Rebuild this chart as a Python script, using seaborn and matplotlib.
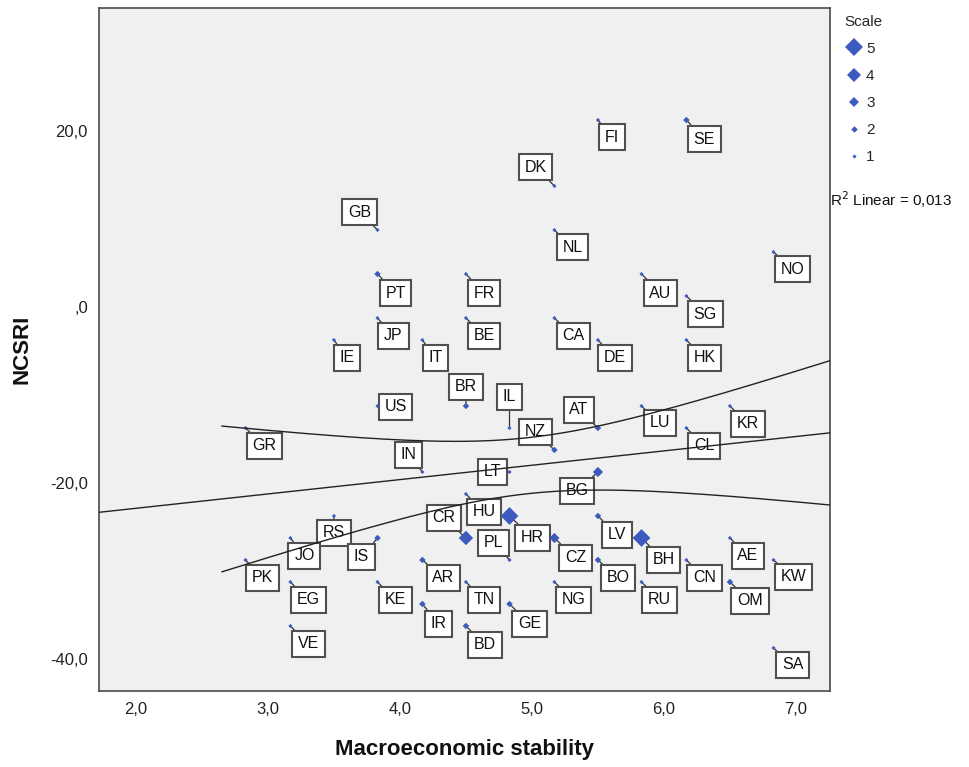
import numpy as np
import pandas as pd
import matplotlib
matplotlib.use("Agg")
import matplotlib.pyplot as plt
import seaborn as sns

# ---------------- data ----------------
countries = ["FI", "SE", "DK", "GB", "NL", "NO", "PT", "FR", "AU", "SG",
             "JP", "BE", "CA", "IE", "IT", "DE", "HK", "US", "BR", "LU",
             "KR", "GR", "IL", "AT", "CL", "NZ", "IN", "LT", "BG", "HU",
             "RS", "HR", "LV", "JO", "IS", "CR", "CZ", "BH", "AE", "PK",
             "AR", "PL", "BO", "CN", "KW", "EG", "KE", "TN", "NG", "RU",
             "OM", "IR", "GE", "VE", "BD", "SA"]
macro = [5.50, 6.17, 5.17, 3.83, 5.17, 6.83, 3.83, 4.50, 5.83, 6.17,
         3.83, 4.50, 5.17, 3.50, 4.17, 5.50, 6.17, 3.83, 4.50, 5.83,
         6.50, 2.83, 4.83, 5.50, 6.17, 5.17, 4.17, 4.83, 5.50, 4.50,
         3.50, 4.83, 5.50, 3.17, 3.83, 4.50, 5.17, 5.83, 6.50, 2.83,
         4.17, 4.83, 5.50, 6.17, 6.83, 3.17, 3.83, 4.50, 5.17, 5.83,
         6.50, 4.17, 4.83, 3.17, 4.50, 6.83]
ncsri = [21.25, 21.25, 13.75, 8.75, 8.75, 6.25, 3.75, 3.75, 3.75, 1.25,
         -1.25, -1.25, -1.25, -3.75, -3.75, -3.75, -3.75, -11.25, -11.25, -11.25,
         -11.25, -13.75, -13.75, -13.75, -13.75, -16.25, -18.75, -18.75, -18.75, -21.25,
         -23.75, -23.75, -23.75, -26.25, -26.25, -26.25, -26.25, -26.25, -26.25, -28.75,
         -28.75, -28.75, -28.75, -28.75, -28.75, -31.25, -31.25, -31.25, -31.25, -31.25,
         -31.25, -33.75, -33.75, -36.25, -36.25, -38.75]
scale = [1, 2, 1, 1, 1, 1, 2, 1, 1, 1,
         1, 1, 1, 1, 1, 1, 1, 1, 2, 1,
         1, 1, 1, 2, 1, 2, 1, 1, 3, 1,
         1, 5, 2, 1, 2, 4, 3, 5, 1, 1,
         2, 1, 2, 1, 1, 1, 1, 1, 1, 1,
         2, 2, 2, 1, 2, 1]

x_ticks = [2, 3, 4, 5, 6, 7]
x_tick_labels = ["2,0", "3,0", "4,0", "5,0", "6,0", "7,0"]
y_ticks = [20, 0, -20, -40]
y_tick_labels = ["20,0", ",0", "-20,0", "-40,0"]
legend_levels = [5, 4, 3, 2, 1]
r2_text = "R$^2$ Linear = 0,013"
x_title = "Macroeconomic stability"
y_title = "NCSRI"

# ---------------- layout / style ----------------
# label offsets from point, in screen pixels (dx right, dy down)
label_offsets = {
    "FI": (14, 17), "SE": (18, 19), "DK": (-19, -19), "GB": (-18, -18), "NL": (18, 17),
    "NO": (19, 17), "PT": (18, 19), "FR": (18, 19), "AU": (19, 19), "SG": (19, 18),
    "JP": (16, 18), "BE": (18, 18), "CA": (19, 18), "IE": (13, 18), "IT": (13, 18),
    "DE": (17, 18), "HK": (18, 18), "US": (18, 1), "BR": (0, -19), "LU": (18, 17),
    "KR": (18, 18), "GR": (19, 18), "IL": (0, -31), "AT": (-19, -18), "CL": (18, 18),
    "NZ": (-19, -18), "IN": (-14, -17), "LT": (-17, 0), "BG": (-21, 19), "HU": (18, 18),
    "RS": (0, 17), "HR": (23, 22), "LV": (19, 19), "JO": (14, 18), "IS": (-16, 19),
    "CR": (-22, -20), "CZ": (21, 20), "BH": (22, 22), "AE": (18, 18), "PK": (17, 18),
    "AR": (21, 18), "PL": (-16, -17), "BO": (20, 18), "CN": (18, 18), "KW": (20, 17),
    "EG": (18, 18), "KE": (18, 18), "TN": (18, 18), "NG": (19, 18), "RU": (18, 18),
    "OM": (20, 19), "IR": (16, 20), "GE": (20, 20), "VE": (18, 18), "BD": (19, 19),
    "SA": (19, 17),
}
size_map = {1: 4.5, 2: 11.0, 3: 27.0, 4: 54.0, 5: 82.0}
BLUE = "#3d5bbf"
FRAME = "#4a4a4a"
XLIM = (1.72, 7.258)
YLIM = (-43.64, 33.98)
CI_X0 = 2.65
T95 = 1.989

sns.set_style("white")
plt.rcParams["font.family"] = ["Liberation Sans", "DejaVu Sans"]

df = pd.DataFrame({"Country": countries, "Macro": macro, "NCSRI": ncsri, "Scale": scale})

W, H = 969, 767
fig = plt.figure(figsize=(W / 100, H / 100), dpi=100)
ax_l, ax_r, ax_t, ax_b = 99, 830, 8, 691
ax = fig.add_axes([ax_l / W, 1 - ax_b / H, (ax_r - ax_l) / W, (ax_b - ax_t) / H])
ax.set_facecolor("#f0f0f0")

sns.scatterplot(data=df, x="Macro", y="NCSRI", size="Scale", sizes=size_map,
                size_order=legend_levels, marker="D", color=BLUE, linewidth=0,
                legend="full", ax=ax, zorder=4)

leg = ax.get_legend()
handles = list(leg.legend_handles)
labels = [t.get_text() for t in leg.get_texts()]
leg.remove()
order = sorted(range(len(labels)), key=lambda i: -int(labels[i]))
handles = [handles[i] for i in order]
labels = [labels[i] for i in order]
fig.legend(handles, labels, title="Scale", loc="upper left",
           bbox_to_anchor=(834 / W, 1 - 4 / H), frameon=False,
           fontsize=11, title_fontsize=11, alignment="left",
           handlelength=1.2, handletextpad=0.2, labelspacing=0.86,
           borderpad=0.2)

# labels with leader lines
for c, xv, yv in zip(countries, macro, ncsri):
    dx, dy = label_offsets[c]
    ax.annotate(c, xy=(xv, yv), xytext=(dx * 0.72, -dy * 0.72),
                textcoords="offset points", ha="center", va="center",
                fontsize=11.5, color="#111111", zorder=3,
                bbox=dict(boxstyle="square,pad=0.36", fc="white", ec="#505050", lw=1.5),
                arrowprops=dict(arrowstyle="-", color="#333333", lw=0.9,
                                shrinkA=0, shrinkB=0))

# weighted linear fit with 95% CI of the mean
xw = np.asarray(macro, float)
yw = np.asarray(ncsri, float)
w = np.asarray(scale, float)
Wt = w.sum()
xbar = (w * xw).sum() / Wt
ybar = (w * yw).sum() / Wt
sxx = (w * (xw - xbar) ** 2).sum()
sxy = (w * (xw - xbar) * (yw - ybar)).sum()
b = sxy / sxx
a = ybar - b * xbar
rss = (w * (yw - a - b * xw) ** 2).sum()
s2 = rss / (Wt - 2)

xs = np.linspace(XLIM[0], XLIM[1], 200)
ax.plot(xs, a + b * xs, color="#222222", lw=1.0, zorder=5)
xc = np.linspace(CI_X0, XLIM[1], 200)
se = np.sqrt(s2 * (1 / Wt + (xc - xbar) ** 2 / sxx))
ax.plot(xc, a + b * xc + T95 * se, color="#222222", lw=1.0, zorder=5)
ax.plot(xc, a + b * xc - T95 * se, color="#222222", lw=1.0, zorder=5)

ax.set_xlim(*XLIM)
ax.set_ylim(*YLIM)
ax.set_xticks(x_ticks)
ax.set_xticklabels(x_tick_labels)
ax.set_yticks(y_ticks)
ax.set_yticklabels(y_tick_labels)
ax.tick_params(axis="both", direction="out", length=5, width=1, color=FRAME,
               labelsize=12, labelcolor="#222222", pad=3)
for sp in ax.spines.values():
    sp.set_visible(True)
    sp.set_color(FRAME)
    sp.set_linewidth(1.2)

ax.set_xlabel(x_title, fontsize=16, fontweight="bold", color="#111111")
ax.xaxis.label.set_va("center")
ax.xaxis.set_label_coords(0.5, -(750 - ax_b) / (ax_b - ax_t))
ax.set_ylabel(y_title, fontsize=16, fontweight="bold", color="#111111")
ax.yaxis.label.set_va("center")
ax.yaxis.set_label_coords(-(ax_l - 22) / (ax_r - ax_l), 0.5)

fig.text(830 / W, 1 - 200 / H, r2_text, ha="left", va="center", fontsize=11, color="#111111")

fig.savefig("out.png", dpi=100)
